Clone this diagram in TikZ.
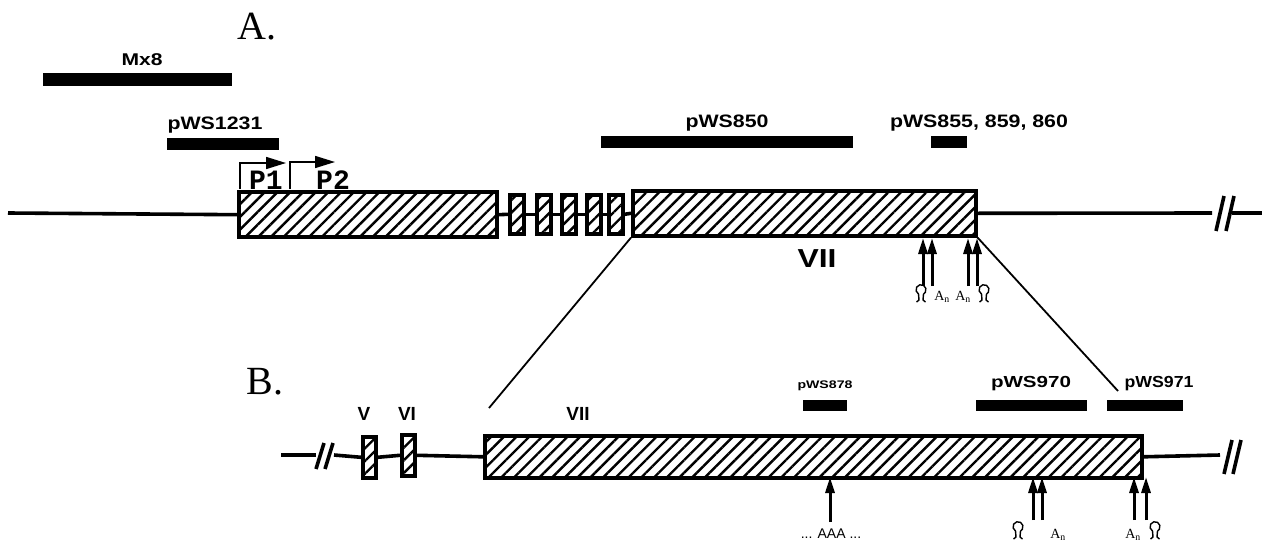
\documentclass[tikz,border=0pt]{standalone}
\usepackage{fontspec}
\usepackage{graphicx}
\setmainfont{Liberation Serif}
\setsansfont{Liberation Sans}
\newfontfamily\pfont{Liberation Mono}
\newcommand\wlab[2]{\resizebox{#1pt}{\height}{#2}}
\usetikzlibrary{arrows.meta,patterns.meta}
\begin{document}
\begin{tikzpicture}[x=1pt,y=-1pt,
  lblA/.style={font=\sffamily\bfseries\fontsize{18}{20}\selectfont,inner sep=0,anchor=base},
  lblB/.style={font=\sffamily\bfseries\fontsize{16}{18}\selectfont,inner sep=0,anchor=base},
  rom/.style={font=\sffamily\bfseries\fontsize{19}{21}\selectfont,inner sep=0,anchor=base},
  slbl/.style={font=\sffamily\bfseries\fontsize{11}{13}\selectfont,inner sep=0,anchor=base},
  bar/.style={fill=black,draw=none,inner sep=0,minimum height=12pt,anchor=north west},
  exon/.style={draw,line width=3.6pt,inner sep=0,anchor=north west,
     pattern={Lines[angle=45,distance=9pt,line width=2.4pt]}},
  dna/.style={line width=3.6pt},
  brk/.style={line width=3.6pt},
  site/.style={line width=3pt,-{Triangle[length=16pt,width=9pt]}},
  prom/.style={line width=1.6pt,-{Triangle[length=20pt,width=12pt]}},
  term/.pic={\draw[line width=1.4pt] (-2.5,0) arc[start angle=120,end angle=420,radius=5] ;
             \draw[line width=1.4pt] (-2.5,0) -- (-2,6) -- (-4.5,8);
             \draw[line width=1.4pt] (2.5,0) -- (2,6) -- (4.5,8);},
  an/.style={font=\fontsize{14}{16}\selectfont,inner sep=0,anchor=base}
]
\useasboundingbox (0,0) rectangle (1270,546);

% ---------------- Part A ----------------
\node[font=\fontsize{40}{42}\selectfont,inner sep=0,anchor=base] (A) at (257,39) {A.};
\node[lblA,font=\sffamily\bfseries\fontsize{17}{19}\selectfont] (lmx) at (142,65) {\wlab{41}{Mx8}};
\node[bar,minimum width=189pt,minimum height=13pt] (bmx) at (43,73) {};
\node[lblA] (l1231) at (215,129) {\wlab{95}{pWS1231}};
\node[bar,minimum width=112pt] (b1231) at (167,138) {};
\node[lblA] (l850) at (727,127) {\wlab{83}{pWS850}};
\node[bar,minimum width=252pt] (b850) at (601,136) {};
\node[lblA] (l855) at (979,127) {\wlab{178}{pWS855, 859, 860}};
\node[bar,minimum width=36pt] (b855) at (931,136) {};

% exons
\node[exon,minimum width=258pt,minimum height=45pt] (e1) at (238,191) {};
\node[exon,minimum width=14pt,minimum height=39pt] (s1) at (508,193) {};
\node[exon,minimum width=14pt,minimum height=39pt] (s2) at (535,193) {};
\node[exon,minimum width=14pt,minimum height=39pt] (s3) at (560,193) {};
\node[exon,minimum width=14pt,minimum height=39pt] (s4) at (585,193) {};
\node[exon,minimum width=14pt,minimum height=39pt] (s5) at (607,193) {};
\node[exon,minimum width=343pt,minimum height=45pt] (e7) at (631,189) {};

\coordinate (aL) at (8,213);
\coordinate (aB1) at (1212,213);
\coordinate (aB2) at (1232,213);
\coordinate (aR) at (1262,213);
\draw[dna] (aL) -- (e1.west);
\draw[dna] (e1.east) -- (s1.west);
\draw[dna] (s1.east) -- (s2.west);
\draw[dna] (s2.east) -- (s3.west);
\draw[dna] (s3.east) -- (s4.west);
\draw[dna] (s4.east) -- (s5.west);
\draw[dna] (s5.east) -- (e7.west);
\draw[dna] (e7.east) -- (aB1);
\draw[dna] (aB2) -- (aR);
\draw[brk] (1216,231) -- (1224,196);
\draw[brk] (1226,231) -- (1234,196);

% promoters
\coordinate (p1a) at (240,189);
\coordinate (p1b) at (240,163);
\coordinate (p1c) at (286,163);
\draw[prom] (p1a) -- (p1b) -- (p1c);
\coordinate (p2a) at (290,189);
\coordinate (p2b) at (290,162);
\coordinate (p2c) at (335,162);
\draw[prom] (p2a) -- (p2b) -- (p2c);
\node[font=\pfont\bfseries\fontsize{28}{30}\selectfont,inner sep=0,anchor=base] (P1) at (266,189) {P1};
\node[font=\pfont\bfseries\fontsize{28}{30}\selectfont,inner sep=0,anchor=base] (P2) at (333,189) {P2};

\node[font=\sffamily\bfseries\fontsize{26}{28}\selectfont,inner sep=0,anchor=base] (VIIa) at (817,267) {\wlab{39}{VII}};

% 3' sites in A
\coordinate (a1) at (923,286); \coordinate (a1t) at (923,238);
\coordinate (a2) at (932,286); \coordinate (a2t) at (932,238);
\coordinate (a3) at (968,286); \coordinate (a3t) at (968,238);
\coordinate (a4) at (977,286); \coordinate (a4t) at (977,238);
\draw[site] (a1) -- (a1t);
\draw[site] (a2) -- (a2t);
\draw[site] (a3) -- (a3t);
\draw[site] (a4) -- (a4t);
\pic at (921,294) {term};
\node[an] (an1) at (942,300) {A$_\mathrm{n}$};
\node[an] (an2) at (963,300) {A$_\mathrm{n}$};
\pic at (984,294) {term};

% zoom lines
\coordinate (z1) at (489,408);
\coordinate (z2) at (1118,391);
\draw[line width=1.8pt] (e7.south west) -- (z1);
\draw[line width=1.8pt] (e7.south east) -- (z2);

% ---------------- Part B ----------------
\node[font=\fontsize{40}{42}\selectfont,inner sep=0,anchor=base] (B) at (265,394) {B.};
\node[rom] (lV) at (364,420) {V};
\node[rom] (lVI) at (407,420) {VI};
\node[rom] (lVII) at (578,420) {VII};
\node[slbl] (l878) at (825,388) {\wlab{55}{pWS878}};
\node[bar,minimum width=44pt,minimum height=11pt] (b878) at (803,400) {};
\node[lblB] (l970) at (1031,387) {\wlab{80}{pWS970}};
\node[bar,minimum width=111pt,minimum height=11pt] (b970) at (976,400) {};
\node[lblB] (l971) at (1159,387) {\wlab{69}{pWS971}};
\node[bar,minimum width=76pt,minimum height=11pt] (b971) at (1107,400) {};

\node[exon,minimum width=13pt,minimum height=41pt] (v5) at (361,435) {};
\node[exon,minimum width=13pt,minimum height=41pt] (v6) at (400,433) {};
\node[exon,minimum width=657pt,minimum height=42pt] (b7) at (483,434) {};

\coordinate (bL) at (281,455);
\coordinate (bB1) at (316,455);
\coordinate (bB2) at (334,455);
\coordinate (bB3) at (1220,455);
\draw[dna] (bL) -- (bB1);
\draw[dna] (bB2) -- (v5.west);
\draw[dna] (v5.east) -- (v6.west);
\draw[dna] (v6.east) -- (b7.west);
\draw[dna] (b7.east) -- (bB3);
\draw[brk] (316,469) -- (324,443);
\draw[brk] (325,469) -- (333,443);
\draw[brk] (1224,474) -- (1232,440);
\draw[brk] (1233,474) -- (1241,440);

% sites in B
\coordinate (c0) at (830,522); \coordinate (c0t) at (830,477);
\draw[site] (c0) -- (c0t);
\node[font=\sffamily\fontsize{14}{16}\selectfont,inner sep=0,anchor=base] (aaa) at (831,538) {... AAA ...};
\coordinate (c1) at (1033,520); \coordinate (c1t) at (1033,477);
\coordinate (c2) at (1042,520); \coordinate (c2t) at (1042,477);
\coordinate (c3) at (1134,520); \coordinate (c3t) at (1134,477);
\coordinate (c4) at (1146,520); \coordinate (c4t) at (1146,477);
\draw[site] (c1) -- (c1t);
\draw[site] (c2) -- (c2t);
\draw[site] (c3) -- (c3t);
\draw[site] (c4) -- (c4t);
\pic at (1018,531) {term};
\node[an] (an3) at (1058,538) {A$_\mathrm{n}$};
\node[an] (an4) at (1133,538) {A$_\mathrm{n}$};
\pic at (1155,531) {term};
\end{tikzpicture}
\end{document}
